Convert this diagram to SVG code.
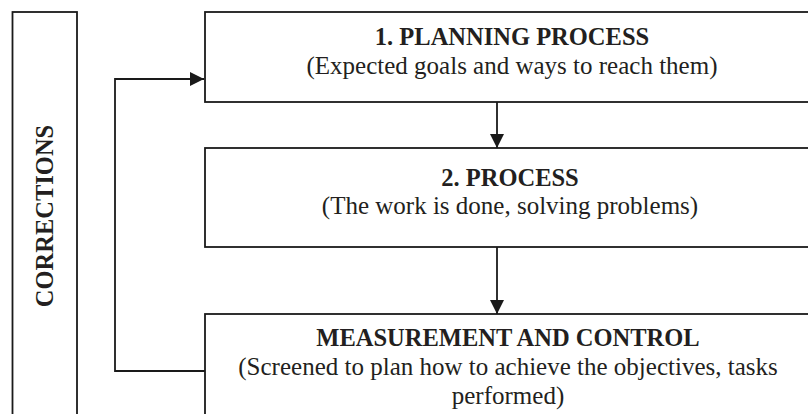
<svg xmlns="http://www.w3.org/2000/svg" width="808" height="414" viewBox="0 0 808 414">
  <style>
    .box { fill: #ffffff; stroke: #1a1a1a; stroke-width: 1.8; }
    .conn { fill: none; stroke: #1a1a1a; stroke-width: 1.8; }
    .title { font-family: "Liberation Serif", "Times New Roman", serif; font-weight: bold; font-size: 24.5px; fill: #231f20; text-anchor: middle; }
    .sub { font-family: "Liberation Serif", "Times New Roman", serif; font-size: 25px; fill: #231f20; text-anchor: middle; }
  </style>
  <defs>
    <marker id="arrow" viewBox="0 0 14 14" refX="14" refY="7" markerWidth="14" markerHeight="14" markerUnits="userSpaceOnUse" orient="auto">
      <path d="M0,0 L14,7 L0,14 Z" fill="#1a1a1a"/>
    </marker>
  </defs>
  <rect width="808" height="414" fill="#ffffff"/>

  <g id="corrections">
    <rect class="box" x="12.5" y="12" width="64.5" height="420"/>
    <text class="title" transform="translate(53,216) rotate(-90)" x="0" y="0">CORRECTIONS</text>
  </g>

  <g id="planning">
    <rect class="box" x="205" y="12" width="620" height="90"/>
    <text class="title" x="512" y="45">1. PLANNING PROCESS</text>
    <text class="sub" x="512" y="74">(Expected goals and ways to reach them)</text>
  </g>

  <g id="process">
    <rect class="box" x="205" y="148" width="620" height="99"/>
    <text class="title" x="510" y="186">2. PROCESS</text>
    <text class="sub" x="510" y="214">(The work is done, solving problems)</text>
  </g>

  <g id="measurement">
    <rect class="box" x="205" y="314" width="620" height="120"/>
    <text class="title" x="508" y="346">MEASUREMENT AND CONTROL</text>
    <text class="sub" x="508" y="375">(Screened to plan how to achieve the objectives, tasks</text>
    <text class="sub" x="508" y="404">performed)</text>
  </g>

  <g id="connectors">
    <line class="conn" x1="497" y1="102" x2="497" y2="148" marker-end="url(#arrow)"/>
    <line class="conn" x1="497" y1="247" x2="497" y2="314" marker-end="url(#arrow)"/>
    <polyline class="conn" points="205,371 115,371 115,79 204,79" marker-end="url(#arrow)"/>
  </g>
</svg>
